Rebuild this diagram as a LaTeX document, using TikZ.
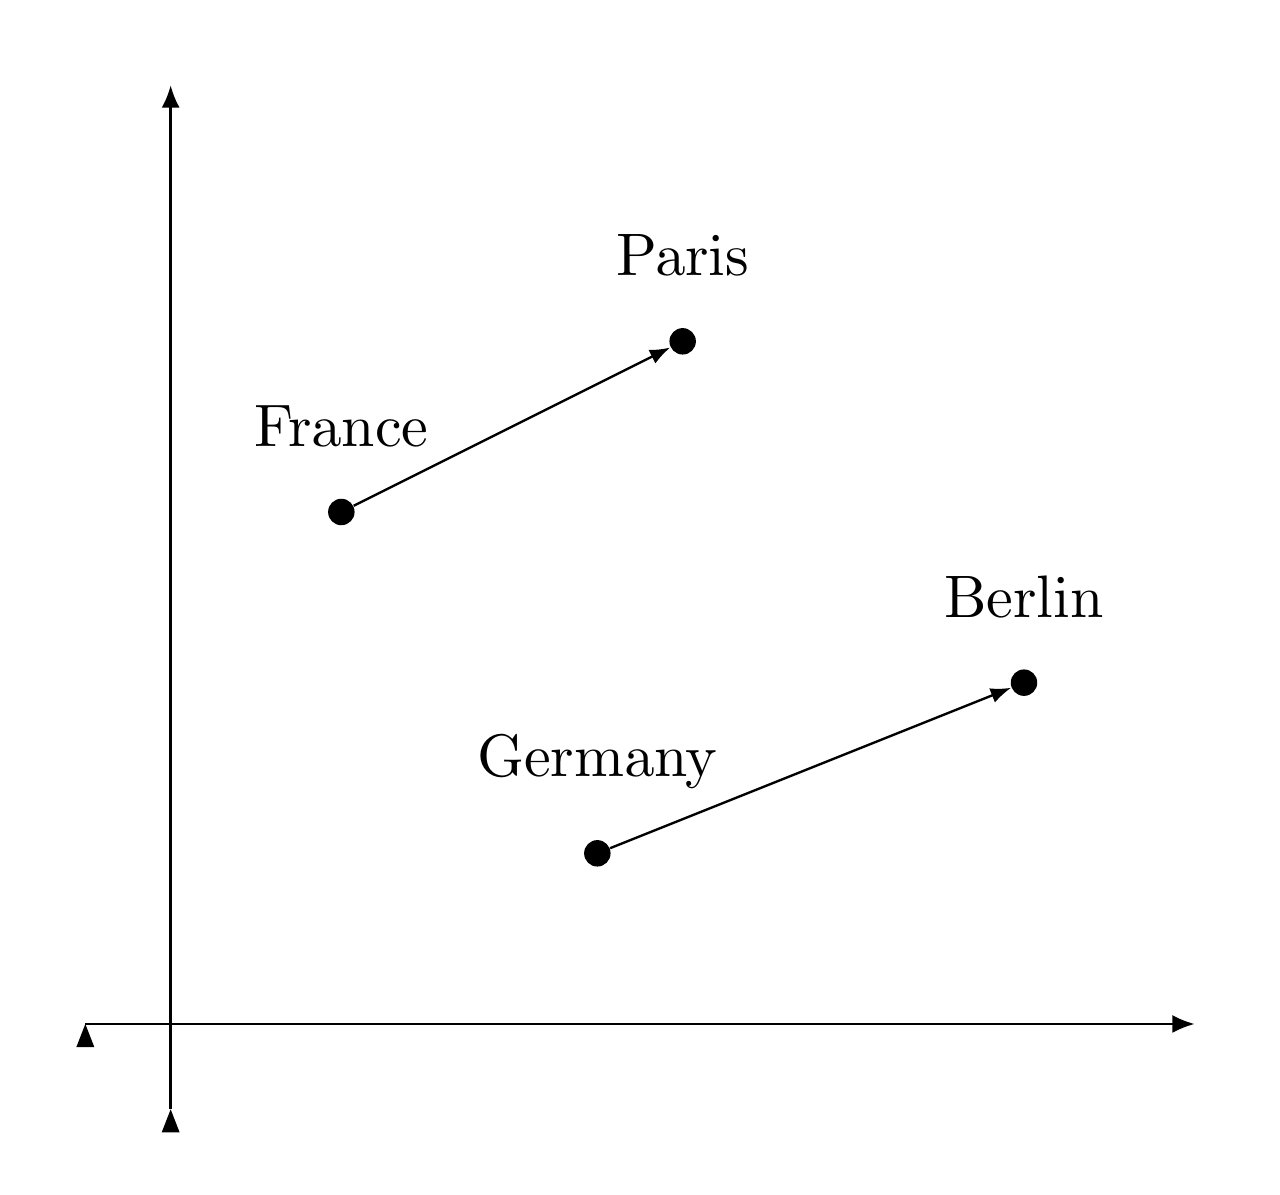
\documentclass[tikz,border=0pt]{standalone}
\usetikzlibrary{positioning, arrows.meta}
\font\cityfont=cmr10 at 20pt

\begin{document}
\begin{tikzpicture}[node distance=0.6cm,
        city/.style={circle, fill, inner sep=0pt, minimum size=0.31cm},
        citylabel/.style={font=\cityfont, inner sep=0pt}]
        \useasboundingbox (-2,-2) rectangle (13,12);

        \coordinate (x start) at (-1,0);
        \coordinate (x end)   at (12,0);
        \coordinate (y start) at (0,-1);
        \coordinate (y end)   at (0,11);

        \draw[thick, -{Latex[length=0.26cm, width=0.21cm]}] (x start) -- (x end);
        \draw[thick, -{Latex[length=0.26cm, width=0.21cm]}] (y start) -- (y end);
        \foreach \p in {x start, y start}
            \fill (\p) -- ++(-0.105,-0.27) -- ++(0.21,0) -- cycle;

        \node[city] (france)  at (2,6)  {};
        \node[city] (paris)   at (6,8)  {};
        \node[city] (germany) at (5,2)  {};
        \node[city] (berlin)  at (10,4) {};

        \node[citylabel, above=of france]  (france label)  {France};
        \node[citylabel, above=of paris]   (paris label)   {Paris};
        \node[citylabel, above=of germany] (germany label) {Germany};
        \node[citylabel, above=of berlin]  (berlin label)  {Berlin};

        \draw[thick, -{Latex[length=0.24cm, width=0.18cm]}] (france)  -- (paris);
        \draw[thick, -{Latex[length=0.24cm, width=0.18cm]}] (germany) -- (berlin);
    \end{tikzpicture}
\end{document}
